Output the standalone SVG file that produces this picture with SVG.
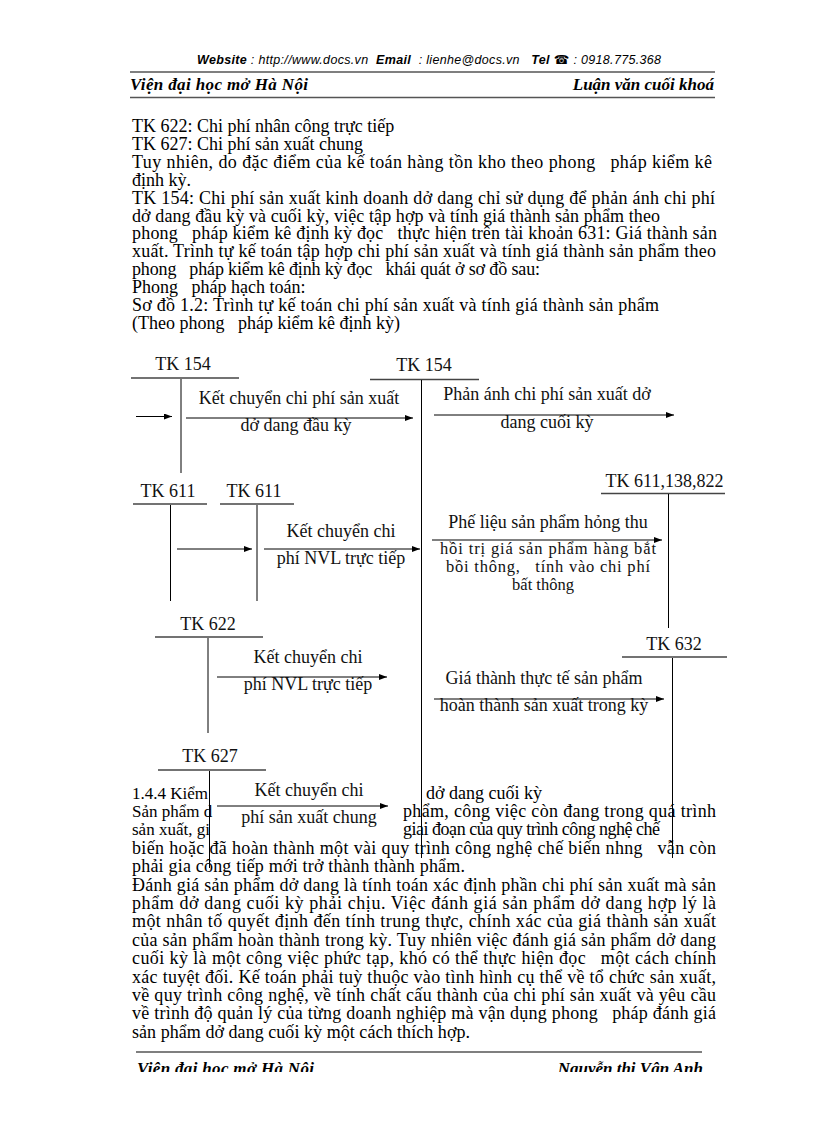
<svg xmlns="http://www.w3.org/2000/svg" width="816" height="1123" viewBox="0 0 816 1123">
<defs>
<marker id="ah" viewBox="0 0 8 6" refX="8" refY="3" markerWidth="8" markerHeight="6" orient="auto" markerUnits="userSpaceOnUse"><path d="M0,0 L8,3 L0,6 z" fill="#000"/></marker>
<clipPath id="pg"><rect x="0" y="0" width="816" height="1072"/></clipPath>
</defs>
<style>
.b{font-family:"Liberation Serif","Times New Roman",serif;font-size:18px;fill:#000;white-space:pre}
.f{font-size:17px}
.d{font-family:"Liberation Serif","Times New Roman",serif;font-size:18px;fill:#111;white-space:pre;text-anchor:middle}
.s{font-size:16.5px}
.hd{font-family:"Liberation Sans",Arial,sans-serif;font-size:12.5px;font-style:italic;fill:#000;white-space:pre}
.hb{font-weight:bold}
.sc{font-family:"Liberation Serif","Times New Roman",serif;font-size:17px;font-style:italic;font-weight:bold;fill:#000}
.rule{stroke:#555;stroke-width:1.5}
.acct{stroke:#444;stroke-width:1.6}
.v{stroke:#000;stroke-width:1}
.arr{stroke:#000;stroke-width:1;marker-end:url(#ah)}
</style>
<rect width="816" height="1123" fill="#fff"/>

<g id="header">
<text class="hd" x="197" y="64" textLength="464"><tspan class="hb">Website</tspan> : http://www.docs.vn  <tspan class="hb">Email</tspan>  : lienhe@docs.vn   <tspan class="hb">Tel</tspan> <tspan font-family="DejaVu Sans" font-style="normal">☎</tspan> : 0918.775.368</text>
<line x1="130" y1="72" x2="715" y2="72" class="rule"/>
<text class="sc" x="130" y="90" textLength="178">Viện đại học mở Hà Nội</text>
<text class="sc" x="714" y="90" text-anchor="end">Luận văn cuối khoá</text>
<line x1="130" y1="97.5" x2="715" y2="97.5" class="rule"/>
</g>

<g id="body-top">
<text class="b" x="132" y="132">TK 622: Chi phí nhân công trực tiếp</text>
<text class="b" x="132" y="149.9">TK 627: Chi phí sản xuất chung</text>
<text class="b" x="132" y="167.8" textLength="580">Tuy nhiên, do đặc điểm của kế toán hàng tồn kho theo phong   pháp kiểm kê</text>
<text class="b" x="132" y="185.7">định kỳ.</text>
<text class="b" x="132" y="203.6" textLength="583">TK 154: Chi phí sản xuất kinh doanh dở dang chỉ sử dụng để phản ánh chi phí</text>
<text class="b" x="132" y="221.5" textLength="528">dở dang đầu kỳ và cuối kỳ, việc tập hợp và tính giá thành sản phẩm theo</text>
<text class="b" x="132" y="239.4" textLength="585">phong   pháp kiểm kê định kỳ đọc   thực hiện trên tài khoản 631: Giá thành sản</text>
<text class="b" x="132" y="257.3" textLength="584">xuất. Trình tự kế toán tập hợp chi phí sản xuất và tính giá thành sản phẩm theo</text>
<text class="b" x="132" y="275.2" textLength="408">phong   pháp kiểm kê định kỳ đọc   khái quát ở sơ đồ sau:</text>
<text class="b" x="132" y="293.1">Phong   pháp hạch toán:</text>
<text class="b" x="132" y="311" textLength="527">Sơ đồ 1.2: Trình tự kế toán chi phí sản xuất và tính giá thành sản phẩm</text>
<text class="b" x="132" y="328.9">(Theo phong   pháp kiểm kê định kỳ)</text>
</g>

<g id="body-bottom">
<text class="b f" x="132" y="798.5">1.4.4 Kiểm</text>
<text class="b" x="426" y="798.5">dở dang cuối kỳ</text>
<text class="b f" x="132" y="816.9">Sản phẩm d</text>
<text class="b" x="403" y="816.9" textLength="313">phẩm, công việc còn đang trong quá trình</text>
<text class="b f" x="132" y="835.3">sản xuất, gi</text>
<text class="b" x="403" y="835.3" textLength="257">giai đoạn của quy trình công nghệ chế</text>
<text class="b" x="132" y="853.7" textLength="584">biến hoặc đã hoàn thành một vài quy trình công nghệ chế biến nhng   vẫn còn</text>
<text class="b" x="132" y="872.1" textLength="333">phải gia công tiếp mới trở thành thành phẩm.</text>
<text class="b" x="132" y="890.5" textLength="584">Đánh giá sản phẩm dở dang là tính toán xác định phần chi phí sản xuất mà sản</text>
<text class="b" x="132" y="908.9" textLength="584">phẩm dở dang cuối kỳ phải chịu. Việc đánh giá sản phẩm dở dang hợp lý là</text>
<text class="b" x="132" y="927.3" textLength="584">một nhân tố quyết định đến tính trung thực, chính xác của giá thành sản xuất</text>
<text class="b" x="132" y="945.7" textLength="584">của sản phẩm hoàn thành trong kỳ. Tuy nhiên việc đánh giá sản phẩm dở dang</text>
<text class="b" x="132" y="964.1" textLength="584">cuối kỳ là một công việc phức tạp, khó có thể thực hiện đọc   một cách chính</text>
<text class="b" x="132" y="982.5" textLength="584">xác tuyệt đối. Kế toán phải tuỳ thuộc vào tình hình cụ thể về tổ chức sản xuất,</text>
<text class="b" x="132" y="1000.9" textLength="584">về quy trình công nghệ, về tính chất cấu thành của chi phí sản xuất và yêu cầu</text>
<text class="b" x="132" y="1019.3" textLength="584">về trình độ quản lý của từng doanh nghiệp mà vận dụng phong   pháp đánh giá</text>
<text class="b" x="132" y="1037.7" textLength="338">sản phẩm dở dang cuối kỳ một cách thích hợp.</text>
</g>

<g id="tk154-left">
<text class="d" x="183" y="370">TK 154</text>
<line x1="131" y1="378" x2="239" y2="378" class="acct"/>
<line x1="181" y1="379" x2="181" y2="473" class="v"/>
</g>
<g id="tk154-mid">
<text class="d" x="424" y="371">TK 154</text>
<line x1="370" y1="379.5" x2="479" y2="379.5" class="acct"/>
<line x1="421.5" y1="380" x2="421.5" y2="858" class="v"/>
</g>
<g id="tk611-a">
<text class="d" x="168" y="497">TK 611</text>
<line x1="133" y1="504" x2="207" y2="504" class="acct"/>
<line x1="170.5" y1="505" x2="170.5" y2="601" class="v"/>
</g>
<g id="tk611-b">
<text class="d" x="254" y="497">TK 611</text>
<line x1="220" y1="504" x2="294" y2="504" class="acct"/>
<line x1="257" y1="505" x2="257" y2="601" class="v"/>
</g>
<g id="tk611-138-822">
<text class="d" x="664.5" y="487">TK 611,138,822</text>
<line x1="601" y1="493.5" x2="725" y2="493.5" class="acct"/>
<line x1="668.5" y1="494" x2="668.5" y2="628" class="v"/>
</g>
<g id="tk622">
<text class="d" x="208" y="630">TK 622</text>
<line x1="155" y1="637" x2="263" y2="637" class="acct"/>
<line x1="208" y1="638" x2="208" y2="733" class="v"/>
</g>
<g id="tk632">
<text class="d" x="674" y="650">TK 632</text>
<line x1="622" y1="657" x2="727" y2="657" class="acct"/>
<line x1="672.5" y1="658" x2="672.5" y2="858" class="v"/>
</g>
<g id="tk627">
<text class="d" x="210" y="762">TK 627</text>
<line x1="158" y1="770" x2="266" y2="770" class="acct"/>
<line x1="209.5" y1="771" x2="209.5" y2="868" class="v"/>
</g>

<g id="connectors">
<line x1="136" y1="416.5" x2="172" y2="416.5" class="arr"/>
<line x1="186" y1="418" x2="413" y2="418" class="arr"/>
<text class="d" x="299" y="404">Kết chuyển chi phí sản xuất</text>
<text class="d" x="296" y="431">dở dang đầu kỳ</text>
<line x1="434" y1="415" x2="674" y2="415" class="arr"/>
<text class="d" x="547" y="400">Phản ánh chi phí sản xuất dở</text>
<text class="d" x="547" y="428">dang cuối kỳ</text>
<line x1="177" y1="549" x2="252" y2="549" class="arr"/>
<line x1="264" y1="549" x2="420" y2="549" class="arr"/>
<text class="d" x="341" y="537">Kết chuyển chi</text>
<text class="d" x="341" y="564">phí NVL trực tiếp</text>
<line x1="432" y1="540" x2="662" y2="540" class="arr"/>
<text class="d" x="548" y="528">Phế liệu sản phẩm hỏng thu</text>
<text class="d s" x="548" y="554" textLength="216">hồi trị giá sản phẩm hàng bắt</text>
<text class="d s" x="548" y="572" textLength="204">bồi thông,   tính vào chi phí</text>
<text class="d s" x="543" y="590">bất thông</text>
<line x1="217" y1="677" x2="387" y2="677" class="arr"/>
<text class="d" x="308" y="663">Kết chuyển chi</text>
<text class="d" x="308" y="690">phí NVL trực tiếp</text>
<line x1="434" y1="699" x2="664" y2="699" class="arr"/>
<text class="d" x="544" y="684">Giá thành thực tế sản phẩm</text>
<text class="d" x="544" y="711">hoàn thành sản xuất trong kỳ</text>
<line x1="217" y1="806" x2="388" y2="806" class="arr"/>
<text class="d" x="309" y="796">Kết chuyển chi</text>
<text class="d" x="309" y="823">phí sản xuất chung</text>
</g>

<g id="footer">
<line x1="136" y1="1052" x2="702" y2="1052" class="rule"/>
<g clip-path="url(#pg)">
<text class="sc" x="137" y="1074" textLength="177">Viện đại học mở Hà Nội</text>
<text class="sc" x="703" y="1074" text-anchor="end">Nguyễn thị Vân Anh</text>
</g>
</g>
</svg>
